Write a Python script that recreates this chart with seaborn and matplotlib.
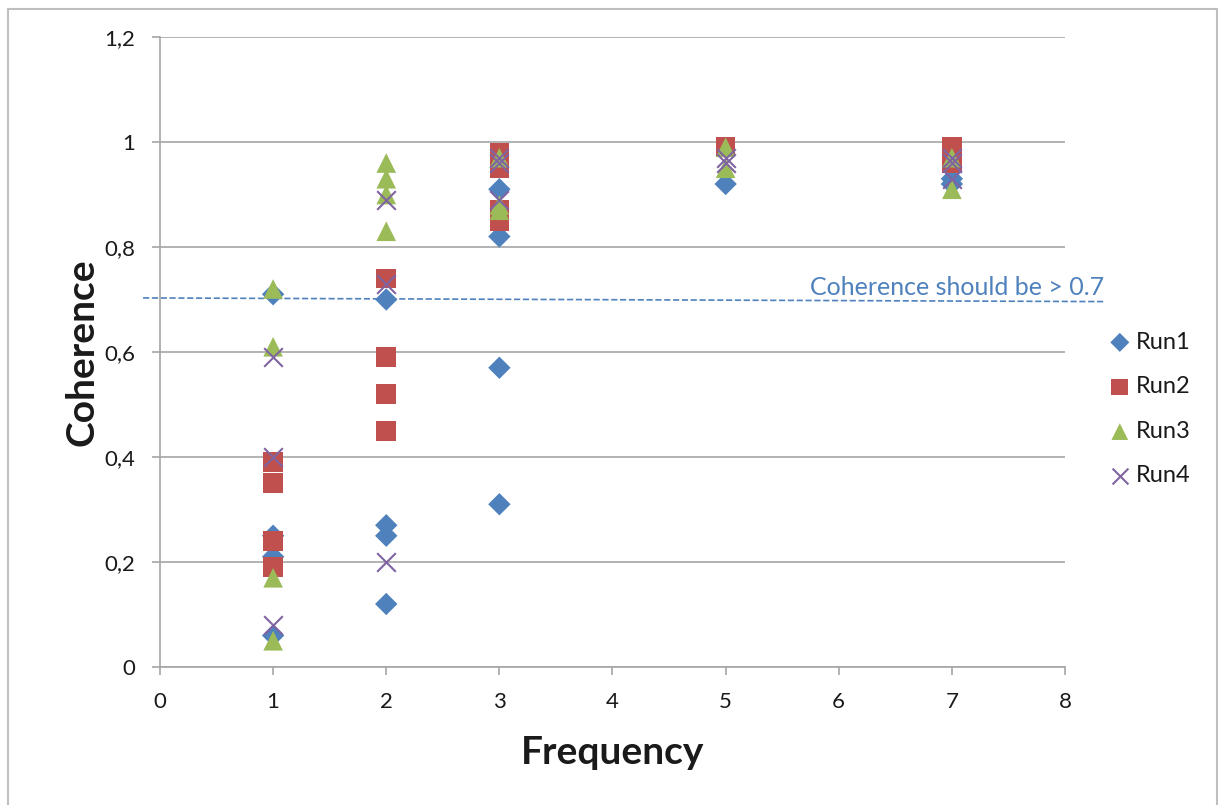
import matplotlib.pyplot as plt
import seaborn as sns
import pandas as pd
from matplotlib.patches import Rectangle

sns.set_style("white")
plt.rcParams['font.family'] = ['Lato', 'DejaVu Sans']

# values
run1_x = [1, 1, 1, 1, 2, 2, 2, 2, 3, 3, 3, 3, 5, 7, 7]
run1_y = [0.71, 0.25, 0.21, 0.06, 0.70, 0.27, 0.25, 0.12, 0.91, 0.82, 0.57, 0.31, 0.92, 0.92, 0.93]
run2_x = [1, 1, 1, 1, 2, 2, 2, 2, 3, 3, 3, 3, 5, 7, 7]
run2_y = [0.39, 0.35, 0.24, 0.19, 0.74, 0.59, 0.52, 0.45, 0.98, 0.95, 0.87, 0.85, 0.99, 0.99, 0.96]
run3_x = [1, 1, 1, 1, 2, 2, 2, 2, 3, 3, 3, 5, 5, 7, 7]
run3_y = [0.72, 0.61, 0.17, 0.05, 0.96, 0.93, 0.90, 0.83, 0.97, 0.88, 0.87, 0.99, 0.95, 0.97, 0.91]
run4_x = [1, 1, 1, 2, 2, 2, 3, 3, 3, 5, 5, 7, 7, 7]
run4_y = [0.59, 0.40, 0.08, 0.89, 0.73, 0.20, 0.97, 0.96, 0.89, 0.97, 0.96, 0.97, 0.96, 0.93]

runs = ["Run1", "Run2", "Run3", "Run4"]
colors = ["#4F81BD", "#C0504D", "#9BBB59", "#8064A2"]
markers = ["D", "s", "^", "x"]
sizes = [130, 200, 200, 180]

threshold_x = [-0.15, 8.35]
threshold_y = [0.703, 0.696]
yticks = [0, 0.2, 0.4, 0.6, 0.8, 1.0, 1.2]
ytick_labels = ["0", "0,2", "0,4", "0,6", "0,8", "1", "1,2"]

data = {"Run1": (run1_x, run1_y), "Run2": (run2_x, run2_y),
        "Run3": (run3_x, run3_y), "Run4": (run4_x, run4_y)}

fig = plt.figure(figsize=(12.23, 8.05), dpi=100)
ax = fig.add_axes([160 / 1223, 1 - 667 / 805, 905 / 1223, 630 / 805])

for run, c, m, s in zip(runs, colors, markers, sizes):
    df = pd.DataFrame({"Frequency": data[run][0], "Coherence": data[run][1]})
    if m == "x":
        sns.scatterplot(data=df, x="Frequency", y="Coherence", ax=ax, color=c,
                        marker=m, s=s, linewidth=1.5, label=run, zorder=3)
    else:
        sns.scatterplot(data=df, x="Frequency", y="Coherence", ax=ax, color=c,
                        marker=m, s=s, edgecolor="none", label=run, zorder=3)

ax.plot(threshold_x, threshold_y, ls="--", color="#4F81BD", lw=1.2, clip_on=False, zorder=2)
ax.text(8.35, 0.709, "Coherence should be > 0.7", color="#4F81BD", fontsize=18,
        ha="right", va="baseline")

ax.set_xlim(0, 8)
ax.set_ylim(0, 1.2)
ax.set_xticks(range(0, 9))
ax.set_yticks(yticks)
ax.set_yticklabels(ytick_labels)
ax.yaxis.grid(True, color="#A6A6A6", lw=1.2)
ax.xaxis.grid(False)
for side in ["top", "right"]:
    ax.spines[side].set_visible(False)
ax.spines["left"].set_color("#A6A6A6")
ax.spines["bottom"].set_color("#A6A6A6")
ax.spines["left"].set_linewidth(1.2)
ax.spines["bottom"].set_linewidth(1.2)
ax.tick_params(axis="both", labelsize=16, labelcolor="#1a1a1a", length=6, width=1.2,
               direction="out", left=True, bottom=True, color="#A6A6A6")
ax.tick_params(axis="x", pad=12)
ax.tick_params(axis="y", pad=12)
ax.set_xlabel("Frequency", fontsize=28, fontweight="bold", va="center", color="#1a1a1a")
ax.set_ylabel("Coherence", fontsize=28, fontweight="bold", va="center", color="#1a1a1a")
ax.xaxis.set_label_coords(0.5, -0.135)
ax.yaxis.set_label_coords(-0.086, 0.5)

leg = ax.legend(loc="center left", bbox_to_anchor=(1108 / 1223, 1 - 409 / 805),
                bbox_transform=fig.transFigure, frameon=False, fontsize=17,
                labelspacing=1.0, handlelength=1.0, handletextpad=0.2,
                borderpad=0, borderaxespad=0, markerscale=0.85)
for t in leg.get_texts():
    t.set_color("#1a1a1a")

# chart-area border (open at the bottom, as in the reference)
fig.patches.append(Rectangle((8 / 1223, -0.02), 1209 / 1223, 1.02 - 9 / 805,
                             transform=fig.transFigure, fill=False,
                             edgecolor="#BFBFBF", lw=1.5))

fig.savefig("out.png", dpi=100)
